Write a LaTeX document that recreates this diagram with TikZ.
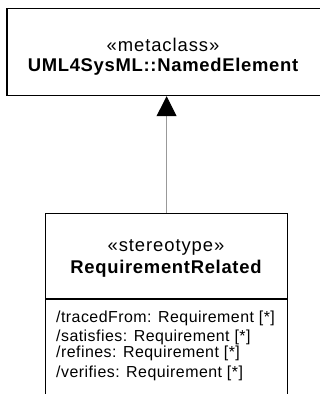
\documentclass[tikz,border=0pt]{standalone}
\usepackage{fontspec}
\setmainfont{Liberation Sans}
\usetikzlibrary{arrows.meta, positioning}

\begin{document}
\begin{tikzpicture}[
    x=1bp, y=-1bp,
    classbox/.style={draw, line width=1.2bp, anchor=north west, inner sep=0pt},
    stereo/.style={font=\fontsize{18.5}{20}\selectfont\addfontfeature{LetterSpace=5}},
    cname/.style={font=\bfseries\fontsize{18.5}{20}\selectfont\addfontfeature{LetterSpace=3.8}},
    attr/.style={anchor=west, inner sep=0pt, text height=11bp, text depth=3bp,
                 font=\fontsize{16}{17}\selectfont\addfontfeature{LetterSpace=2.9}},
    gen/.style={draw=gray!80, line width=1bp,
                -{Triangle[black, length=20bp, width=20bp]}}
  ]
  \useasboundingbox (0,0) rectangle (320,394);

  % Metaclass
  \node[classbox, minimum width=330bp, minimum height=87.5bp] (meta) at (6.5,7.5) {};
  \node[stereo] (metast) at (163,45) {«metaclass»};
  \node[cname] (metaname) at (163,67) {UML4SysML::NamedElement};

  % Stereotype
  \node[classbox, minimum width=242bp, minimum height=200bp] (req) at (45,213) {};
  \node[stereo] (reqst) at (166,247) {«stereotype»};
  \node[cname] (reqname) at (166,269) {RequirementRelated};
  \coordinate (divl) at (45,299);
  \coordinate (divr) at (287,299);
  \draw[line width=1.2bp] (divl) -- (divr);

  % Attributes
  \node[attr] (a1) at (56,318) {/tracedFrom: Requirement [*]};
  \node[attr] (a2) at (56,337) {/satisfies: Requirement [*]};
  \node[attr] (a3) at (56,353) {/refines: Requirement [*]};
  \node[attr] (a4) at (56,373) {/verifies: Requirement [*]};

  % Generalization
  \draw[gen] (req.north) -- (req.north |- meta.south);
\end{tikzpicture}
\end{document}
